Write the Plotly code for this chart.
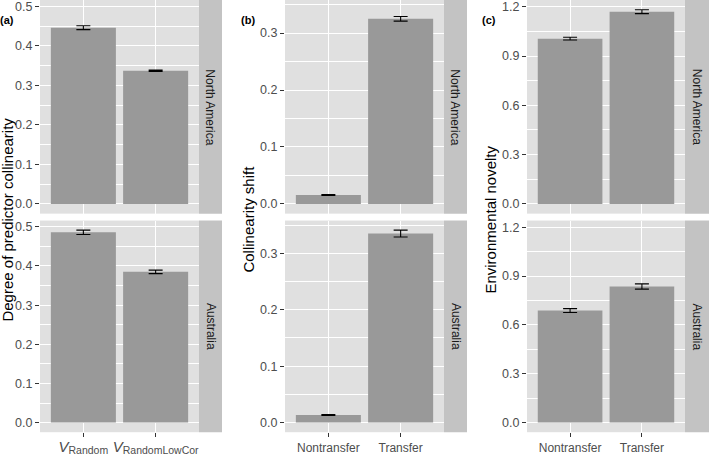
import plotly.graph_objects as go

W, H = 709, 456

regions = ["North America", "Australia"]

cats_a = [
    "<i><span style='font-size:15px'>V</span></i><sub><span style='font-size:10.5px'>Random</span></sub>",
    "<i><span style='font-size:15px'>V</span></i><sub><span style='font-size:10.5px'>RandomLowCor</span></sub>",
]
cats_bc = ["Nontransfer", "Transfer"]

# panel (a) Degree of predictor collinearity
a_na = [0.446, 0.337]
a_na_err = [0.005, 0.0015]
a_au = [0.486, 0.385]
a_au_err = [0.0055, 0.0045]

# panel (b) Collinearity shift
b_na = [0.0155, 0.325]
b_na_err = [0.0008, 0.004]
b_au = [0.0135, 0.335]
b_au_err = [0.0008, 0.006]

# panel (c) Environmental novelty
c_na = [1.006, 1.170]
c_na_err = [0.008, 0.012]
c_au = [0.688, 0.836]
c_au_err = [0.012, 0.016]

panels = [
    dict(cats=cats_a, rows=[(a_na, a_na_err), (a_au, a_au_err)], dtick=0.1,
         title="Degree of predictor collinearity", label="(a)", fmt=".1f"),
    dict(cats=cats_bc, rows=[(b_na, b_na_err), (b_au, b_au_err)], dtick=0.1,
         title="Collinearity shift", label="(b)", fmt=".1f"),
    dict(cats=cats_bc, rows=[(c_na, c_na_err), (c_au, c_au_err)], dtick=0.3,
         title="Environmental novelty", label="(c)", fmt=".1f"),
]

# pixel layout
col_px = [(40, 199, 222), (285, 444, 467), (527, 685, 709)]
row_px = [(0, 216), (223, 437)]
title_x = [8, 249, 491]
label_x = [7, 248, 489]

def px_x(p):
    return p / W

def px_y(p):
    return 1 - p / H

PANEL_BG = "#E0E0E0"
STRIP_BG = "#C3C3C3"
BAR = "#999999"
TICK_COL = "#4D4D4D"
FONT = "Liberation Sans, Arial, sans-serif"

fig = go.Figure()
layout = dict(
    width=W, height=H, margin=dict(l=0, r=0, t=0, b=0),
    paper_bgcolor="white", plot_bgcolor=PANEL_BG, showlegend=False,
    font=dict(family=FONT, color=TICK_COL, size=12),
)
shapes = []
annotations = []

for ci, p in enumerate(panels):
    allmax = max(max(v + e for v, e in zip(vals, errs)) for vals, errs in p["rows"])
    yr = [-0.05 * allmax, 1.05 * allmax]
    x0, x1, xs = col_px[ci]
    for ri, (vals, errs) in enumerate(p["rows"]):
        k = ri * 3 + ci + 1
        xa = "x" if k == 1 else f"x{k}"
        ya = "y" if k == 1 else f"y{k}"
        fig.add_trace(go.Bar(
            x=p["cats"], y=vals, xaxis=xa, yaxis=ya, width=0.9,
            marker=dict(color=BAR, line=dict(width=0)),
            error_y=dict(type="data", array=errs, color="black", thickness=1.1, width=7),
            hoverinfo="skip",
        ))
        y0, y1 = row_px[ri]
        bottom = ri == 1
        layout[("xaxis" if k == 1 else f"xaxis{k}")] = dict(
            domain=[px_x(x0), px_x(x1)], anchor=ya, type="category",
            categoryorder="array", categoryarray=p["cats"], range=[-0.6, 1.6],
            showgrid=True, gridcolor="white", gridwidth=1.1, zeroline=False,
            showline=False, showticklabels=bottom,
            ticks="outside" if bottom else "", ticklen=4, tickcolor="#333333",
            tickwidth=1, tickfont=dict(size=12, color=TICK_COL, family=FONT),
            ticklabeloverflow="allow", fixedrange=True,
        )
        layout[("yaxis" if k == 1 else f"yaxis{k}")] = dict(
            domain=[px_y(y1), px_y(y0)], anchor=xa, range=yr,
            tick0=0, dtick=p["dtick"], tickformat=p["fmt"],
            showgrid=True, gridcolor="white", gridwidth=1.1, zeroline=False,
            showline=False, ticks="outside", ticklen=4, tickcolor="#333333",
            tickwidth=1, tickfont=dict(size=12.5, color=TICK_COL, family=FONT),
            minor=dict(tick0=0, dtick=p["dtick"] / 2, showgrid=True,
                       gridcolor="white", gridwidth=0.55, ticks=""),
            ticklabeloverflow="allow", fixedrange=True,
        )
        # strip
        shapes.append(dict(type="rect", xref="paper", yref="paper",
                           x0=px_x(x1), x1=px_x(xs), y0=px_y(y1), y1=px_y(y0),
                           fillcolor=STRIP_BG, line=dict(width=0), layer="below"))
        annotations.append(dict(
            text=regions[ri], xref="paper", yref="paper",
            x=px_x((x1 + xs) / 2), y=px_y((y0 + y1) / 2), textangle=90,
            showarrow=False, xanchor="center", yanchor="middle",
            font=dict(size=12, color="#1A1A1A", family=FONT),
        ))
    annotations.append(dict(
        text=p["title"], xref="paper", yref="paper",
        x=px_x(title_x[ci]), y=px_y(222), textangle=-90, showarrow=False,
        xanchor="center", yanchor="middle",
        font=dict(size=15, color="black", family=FONT),
    ))
    annotations.append(dict(
        text="<b>" + p["label"] + "</b>", xref="paper", yref="paper",
        x=px_x(label_x[ci]), y=px_y(20), showarrow=False,
        xanchor="center", yanchor="middle",
        font=dict(size=11, color="black", family=FONT),
    ))

layout["shapes"] = shapes
layout["annotations"] = annotations
fig.update_layout(**layout)
fig.write_html(
    "out.html",
    config={"displayModeBar": False},
    post_script="document.body.style.margin='0';document.body.style.overflow='hidden';",
)
